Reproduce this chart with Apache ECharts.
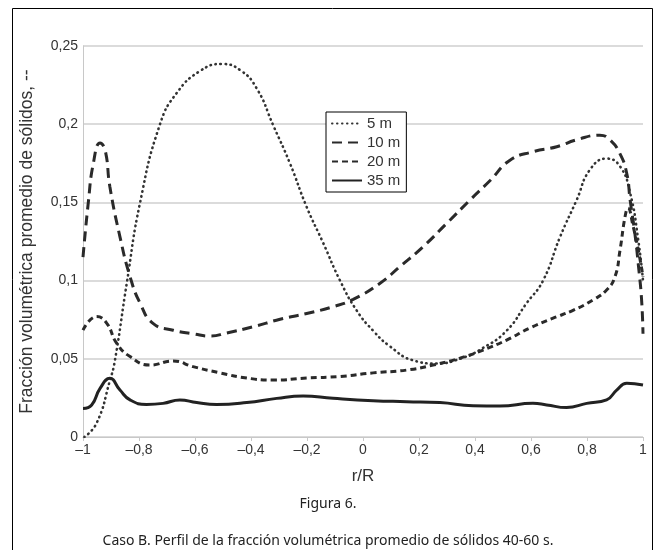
<!DOCTYPE html>
<html>
<head>
<meta charset="utf-8">
<script src="https://cdn.jsdelivr.net/npm/echarts@6/dist/echarts.min.js"></script>
<style>
html,body{margin:0;padding:0;background:#fff;}
#c{width:656px;height:550px;}
</style>
</head>
<body>
<div id="c"></div>
<script>
// ---- data ----
var seriesNames = ['5 m', '10 m', '20 m', '35 m'];
var xTicks = ['\u20131', '\u20130,8', '\u20130,6', '\u20130,4', '\u20130,2', '0', '0,2', '0,4', '0,6', '0,8', '1'];
var yTicks = ['0', '0,05', '0,1', '0,15', '0,2', '0,25'];

var r5 = [-0.995, -0.951, -0.904, -0.886, -0.844, -0.796, -0.725, -0.665, -0.582, -0.505, -0.439, -0.380, -0.320, -0.261, -0.201, -0.142, -0.082, -0.023, 0.036, 0.096, 0.179, 0.263, 0.346, 0.429, 0.513, 0.584, 0.643, 0.704, 0.763, 0.811, 0.870, 0.918, 0.954, 0.983, 1.0];
var v5 = [0.0, 0.009, 0.036, 0.049, 0.098, 0.150, 0.200, 0.220, 0.234, 0.2385, 0.2346, 0.223, 0.199, 0.175, 0.147, 0.124, 0.100, 0.081, 0.068, 0.058, 0.049, 0.047, 0.050, 0.057, 0.068, 0.0855, 0.100, 0.128, 0.1515, 0.171, 0.178, 0.173, 0.156, 0.126, 0.100];

var r10 = [-1.0, -0.981, -0.963, -0.939, -0.921, -0.904, -0.868, -0.832, -0.796, -0.750, -0.678, -0.606, -0.546, -0.487, -0.392, -0.296, -0.201, -0.107, -0.035, 0.061, 0.132, 0.215, 0.299, 0.382, 0.454, 0.525, 0.607, 0.692, 0.763, 0.846, 0.882, 0.918, 0.942, 0.954, 0.971, 0.984, 0.995, 1.0];
var v10 = [0.115, 0.150, 0.175, 0.188, 0.1835, 0.160, 0.128, 0.1025, 0.0855, 0.0727, 0.0683, 0.066, 0.0645, 0.0665, 0.0705, 0.0753, 0.079, 0.0833, 0.088, 0.0983, 0.109, 0.1217, 0.1366, 0.1515, 0.164, 0.177, 0.1824, 0.1856, 0.190, 0.193, 0.190, 0.181, 0.1685, 0.1515, 0.130, 0.109, 0.0876, 0.066];

var r20 = [-1.0, -0.951, -0.915, -0.880, -0.832, -0.761, -0.678, -0.607, -0.511, -0.415, -0.321, -0.201, -0.082, 0.036, 0.156, 0.250, 0.346, 0.429, 0.513, 0.596, 0.679, 0.750, 0.821, 0.870, 0.900, 0.918, 0.936, 0.946, 0.965, 0.983, 1.0];
var v20 = [0.0683, 0.077, 0.0727, 0.060, 0.0514, 0.046, 0.0486, 0.045, 0.041, 0.0377, 0.0364, 0.0377, 0.0387, 0.041, 0.0428, 0.046, 0.0504, 0.0556, 0.062, 0.0697, 0.076, 0.081, 0.0876, 0.094, 0.1025, 0.1196, 0.141, 0.1464, 0.1345, 0.1196, 0.1025];

var r35 = [-1.0, -0.969, -0.939, -0.904, -0.868, -0.832, -0.773, -0.714, -0.654, -0.594, -0.523, -0.415, -0.308, -0.214, -0.107, 0.036, 0.156, 0.275, 0.393, 0.489, 0.607, 0.656, 0.727, 0.799, 0.870, 0.906, 0.942, 1.0];
var v35 = [0.0183, 0.0205, 0.0311, 0.0375, 0.030, 0.0237, 0.0208, 0.0215, 0.0237, 0.022, 0.0208, 0.022, 0.0247, 0.0262, 0.0247, 0.0232, 0.0226, 0.022, 0.020, 0.0198, 0.0215, 0.0205, 0.0188, 0.0215, 0.0237, 0.030, 0.0343, 0.0333];

var figTitle = 'Figura 6.';
var figCaption = 'Caso B. Perfil de la fracción volumétrica promedio de sólidos 40-60 s.';
var yName = 'Fracción volumétrica promedio de sólidos, --';
var xName = 'r/R';

function zip(a, b) { return a.map(function (x, i) { return [x, b[i]]; }); }

var styles = [
  { type: [0.5, 4.5], width: 2.6, color: '#333', cap: 'round' },
  { type: [10, 6], width: 3, color: '#2a2a2a' },
  { type: [6, 4], width: 3, color: '#2a2a2a' },
  { type: 'solid', width: 3, color: '#222' }
];
var datas = [zip(r5, v5), zip(r10, v10), zip(r20, v20), zip(r35, v35)];

var chart = echarts.init(document.getElementById('c'), null, { renderer: 'canvas' });
var font = '"Liberation Sans", Arial, sans-serif';

chart.setOption({
  animation: false,
  backgroundColor: '#fff',
  title: [
    { text: figTitle, left: 'center', top: 492, textStyle: { fontFamily: '"Noto Sans", sans-serif', fontSize: 14, fontWeight: 'normal', color: '#222' } },
    { text: figCaption, left: 'center', top: 529, textStyle: { fontFamily: '"Noto Sans", sans-serif', fontSize: 14, fontWeight: 'normal', color: '#222' } }
  ],
  graphic: [
    { type: 'rect', shape: { x: 12.5, y: 8.5, width: 640, height: 560 }, style: { fill: 'none', stroke: '#000', lineWidth: 1 }, silent: true }
  ],
  legend: {
    orient: 'vertical',
    left: 326, top: 112,
    itemWidth: 30, itemHeight: 12, itemGap: 4,
    padding: [4, 6, 4, 5],
    borderColor: '#000', borderWidth: 1,
    backgroundColor: '#fff',
    itemStyle: { opacity: 0 },
    textStyle: { fontFamily: font, fontSize: 15, color: '#333' },
    data: seriesNames
  },
  grid: { left: 83, right: 13, top: 46, bottom: 113 },
  xAxis: {
    type: 'value', min: -1, max: 1, interval: 0.2,
    name: xName, nameLocation: 'middle', nameGap: 31,
    nameTextStyle: { fontFamily: font, fontSize: 17, color: '#333' },
    axisLine: { show: true, onZero: false, lineStyle: { color: '#c8c8c8' } },
    axisTick: { show: true, inside: false, length: 4, lineStyle: { color: '#c8c8c8' } },
    axisLabel: {
      fontFamily: font, fontSize: 14, color: '#333', margin: 6,
      formatter: function (v) { return xTicks[Math.round((v + 1) / 0.2)]; }
    },
    splitLine: { show: false }
  },
  yAxis: {
    type: 'value', min: 0, max: 0.25, interval: 0.05,
    name: yName, nameLocation: 'middle', nameGap: 47, nameRotate: 90,
    nameTextStyle: { fontFamily: font, fontSize: 17.5, color: '#333' },
    axisLine: { show: true, onZero: false, lineStyle: { color: '#c8c8c8' } },
    axisTick: { show: false },
    axisLabel: {
      fontFamily: font, fontSize: 14, color: '#333', margin: 5,
      formatter: function (v) { return yTicks[Math.round(v / 0.05)]; }
    },
    splitLine: { show: true, lineStyle: { color: '#cfcfcf', width: 1.5 } }
  },
  series: seriesNames.map(function (n, i) {
    return {
      name: n, type: 'line', data: datas[i], smooth: 0.5,
      symbol: 'none', showSymbol: false,
      lineStyle: { type: styles[i].type, width: styles[i].width, color: styles[i].color, cap: styles[i].cap || 'butt' },
      itemStyle: { color: styles[i].color },
      z: 3
    };
  })
});
</script>
</body>
</html>
